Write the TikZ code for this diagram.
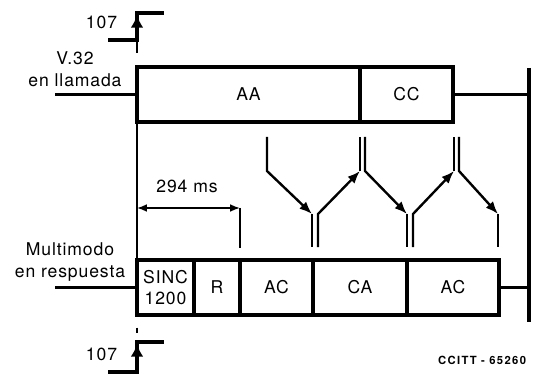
\documentclass[tikz,border=0pt]{standalone}
\usepackage{fontspec}
\setmainfont{TeX Gyre Heros}[LetterSpace=5]
\newfontfamily\tagfont{TeX Gyre Heros}[LetterSpace=12]
\usetikzlibrary{arrows.meta,calc,positioning}
\newcommand{\pxu}{0.025cm}
\tikzset{
  seg/.style={draw,line width=2.2pt,minimum height=55*\pxu,inner sep=0pt,outer sep=0pt},
  wire/.style={line width=2.2pt},
  msg/.style={line width=1.7pt},
  thin/.style={line width=1.1pt},
  tip/.style={-{Latex[length=9pt,width=7pt]}},
}

\begin{document}
\begin{tikzpicture}[x=\pxu,y=-\pxu,font=\fontsize{12.5}{15.5}\selectfont,>=Latex]
\useasboundingbox (0,0) rectangle (536,379);
% calling modem (V.32)
\node[seg,minimum width=223*\pxu,anchor=north west] (aa) at (137,67) {AA};
\node[seg,minimum width=93*\pxu,right=0pt of aa] (cc) {CC};
% answering modem (multimode)
\node[seg,minimum width=57*\pxu,anchor=north west,align=center] (sinc) at (137,260) {SINC\\1200};
\foreach \n/\w/\t [remember=\n as \prev (initially sinc)] in {r/46/R,ac1/73/AC,ca/94/CA,ac2/92/AC}
  \node[seg,minimum width=\w*\pxu,right=0pt of \prev] (\n) {\t};
\node[align=center] (callname) at (75,69) {V.32\\en llamada};
\node[align=center] (answname) at (70,262) {Multimodo\\en respuesta};
% line ends
\coordinate (callin) at (55,94.5);
\coordinate (answin) at (55,287.5);
\coordinate (endtop) at (529,68);
\coordinate (endbot) at (529,322);
\draw[wire] (callin) -- (aa.west);
\draw[wire] (answin) -- (sinc.west);
\draw[wire] (cc.east) -- (cc.east -| endtop);
\draw[wire] (ac2.east) -- (ac2.east -| endtop);
\draw[wire] (endtop) -- (endbot);
% circuit 107
\foreach \n/\lo/\hi in {a/40/13,b/372/342}{
  \coordinate (s\n0) at (108,\lo);
  \coordinate (s\n1) at (137,\lo);
  \coordinate (s\n2) at (137,\hi);
  \coordinate (s\n3) at (164,\hi);
  \coordinate (h\n) at (137,\hi+2);
  \draw[wire] (s\n0) -- (s\n1) -- (s\n2) -- (s\n3);
  \draw[line width=1.5pt,-{Latex[length=9pt,width=9pt]}] (s\n1) -- (h\n);
  \node[anchor=east] (l107\n) at (122,\lo-18) {107};
}
\draw[thin,dash pattern=on 0pt off 1.5pt on 8pt off 40pt] (sa1) -- (aa.north west);
\draw[thin] (aa.south west) -- (sinc.north west);
\draw[thin,dash pattern=on 0pt off 9pt on 3.5pt off 40pt] (sinc.south west) -- (sb2);
% 294 ms
\coordinate (dimL) at (137,208);
\coordinate (tickend) at (240,248);
\draw[thin,{Latex[length=7pt,width=5.5pt]}-{Latex[length=7pt,width=5.5pt]}] (dimL) -- (dimL -| tickend);
\draw[thin] (dimL -| tickend) -- (tickend);
\node (dimtxt) at (187,186) {294 ms};
% exchanges
\foreach \n/\x in {a/267,b/360,c/365,d/454,e/459}{
  \coordinate (t\n) at (\x,137); \coordinate (k\n) at (\x,171);}
\foreach \n/\x in {a/312,b/318,c/407,d/413,e/498}{
  \coordinate (b\n) at (\x,247); \coordinate (j\n) at (\x,214);}
\foreach \p/\q/\z in {ta/ka/ja,bb/jb/kb,tc/kc/jc,bd/jd/kd,te/ke/je}
  \draw[msg,tip] (\p) -- (\q) -- (\z);
\foreach \p/\q in {ja/ba,kb/tb,jc/bc,kd/td,je/be}
  \draw[msg] (\p) -- (\q);
\node[font=\tagfont\fontsize{8}{9}\selectfont\bfseries,anchor=east] (tag) at (531,360) {CCITT - 65260};
\end{tikzpicture}
\end{document}
